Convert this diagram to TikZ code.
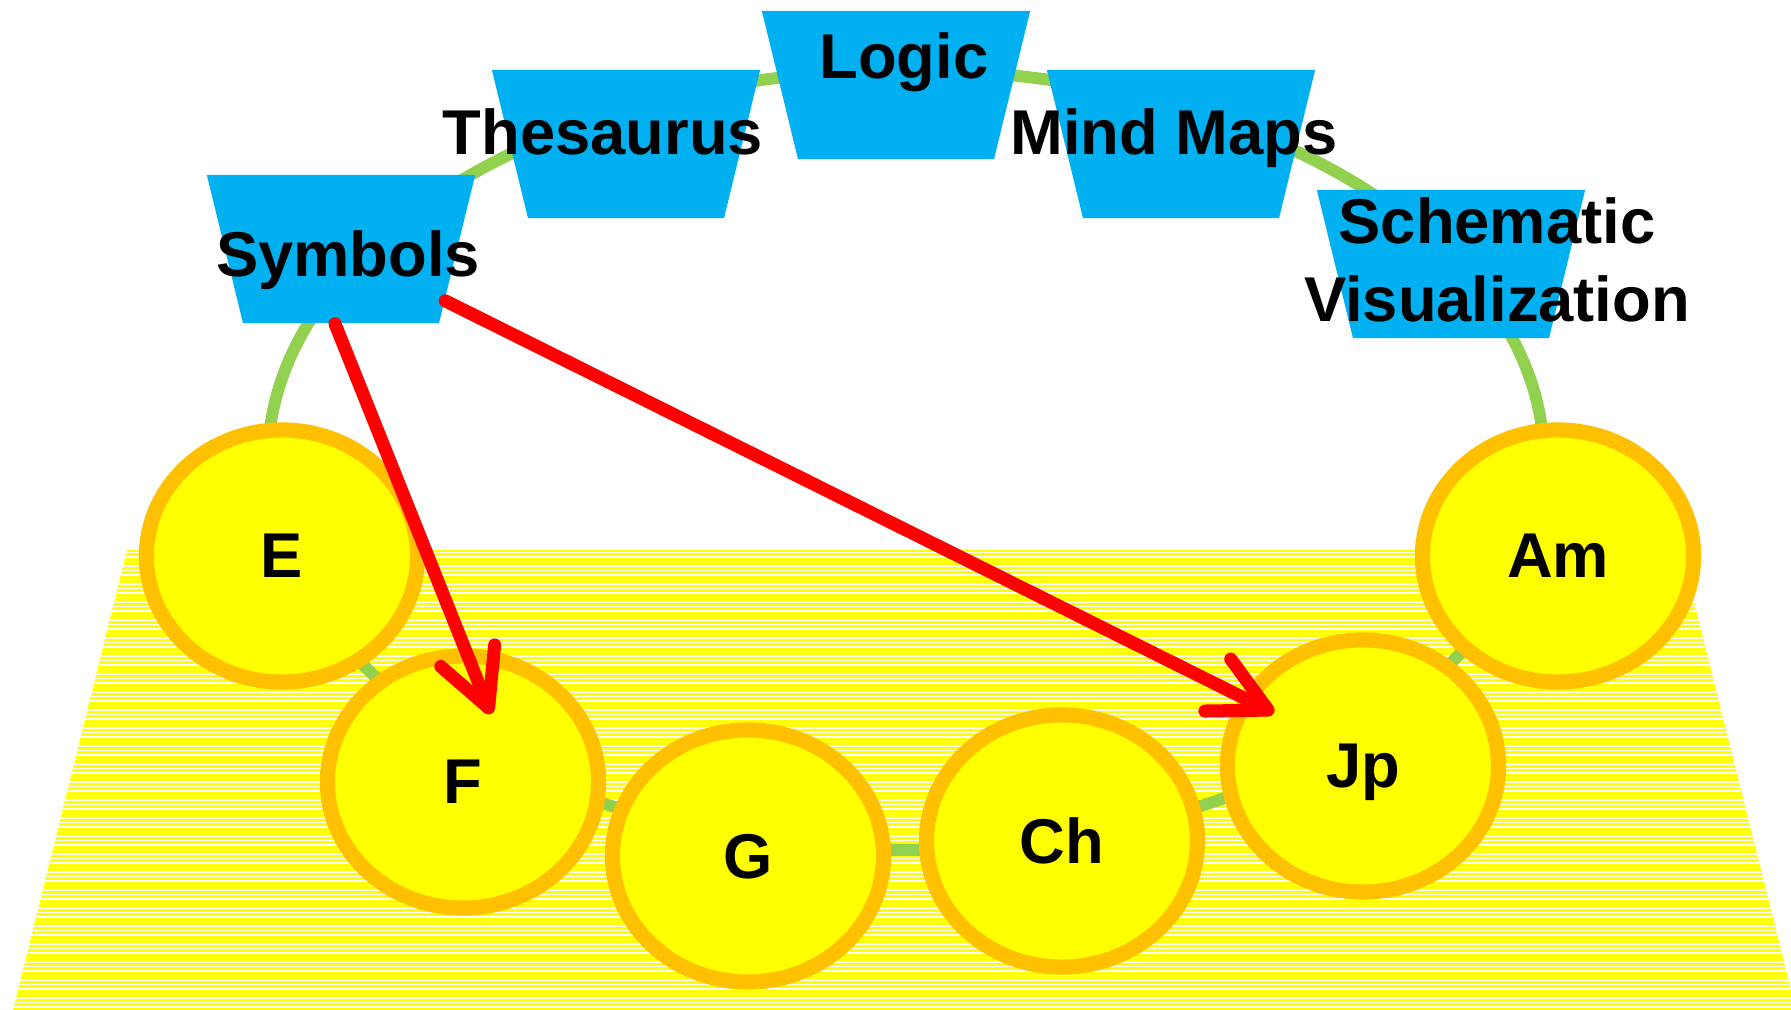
\documentclass[tikz,border=0pt]{standalone}
\usepackage{fontspec}
\setmainfont{Liberation Sans}
\usepackage{tikz}
\usetikzlibrary{positioning,shapes,arrows.meta,calc}
\usepackage{xcolor}
\definecolor{ringgreen}{HTML}{92D050}
\definecolor{boxblue}{HTML}{00B0F0}
\definecolor{langyellow}{HTML}{FFFF00}
\definecolor{langorange}{HTML}{FFC000}

\begin{document}
\begin{tikzpicture}[x=0.01cm,y=-0.01cm,
  lbl/.style={font=\fontsize{18}{22}\selectfont\bfseries},
  lang/.style={draw=langorange,fill=langyellow,line width=4.3pt,shape=ellipse,minimum width=2.71cm,minimum height=2.52cm,inner sep=0pt,text depth=0pt,lbl},
  topic/.style={fill=boxblue,shape=trapezium,trapezium left angle=103.7,trapezium right angle=103.7,inner xsep=0.98cm,inner ysep=0.74cm},
  ring/.style={draw=ringgreen,line width=3.4pt},
  link/.style={draw=red,line width=3.7pt,line cap=round,-{Straight Barb[length=16pt,width=16.5pt,round]}}]
\useasboundingbox (0,0) rectangle (1791,1010);
\fill[langyellow] (127,550) -- (1681,550) -- (1796,1010) -- (13,1010) -- cycle;
\begin{scope}
\clip (127,550) -- (1681,550) -- (1796,1010) -- (13,1010) -- cycle;
\foreach \y in {552.5,557,...,1012} \draw[white,line width=0.3pt] (0,\y) -- (1791,\y);
\end{scope}
\coordinate (hub) at (906,460);
\draw[ring] (hub) ellipse [x radius=638, y radius=390];
\node[lang] (E) at (282,556) {E};
\node[lang] (F) at (463,782) {F};
\node[lang] (G) at (748,856) {G};
\node[lang] (Ch) at (1062,841) {Ch};
\node[lang] (Jp) at (1363,766) {Jp};
\node[lang] (Am) at (1558,556) {Am};
\node[topic] (Symbols) at (341,249) {};
\node[topic] (Thesaurus) at (626,144) {};
\node[topic] (Logic) at (896,85) {};
\node[topic] (MindMaps) at (1181,144) {};
\node[topic] (Schematic) at (1451,264) {};
\node[lbl,anchor=base] (Symbols-t) at (348,277) {Symbols};
\node[lbl,anchor=base] (Thesaurus-t) at (603,155) {Thesaurus};
\node[lbl,anchor=base] (Logic-t) at (904,79) {Logic};
\node[lbl,anchor=base] (MindMaps-t) at (1174,155) {Mind Maps};
\node[lbl,align=center] (Schematic-t) at (1497,260) {Schematic\\Visualization};
\draw[link] ($(Symbols.south)+(-6,0)$) -- ($(F)+(28,-68)$);
\draw[link] (Symbols) -- ($(Jp)+(-89,-53)$);
\end{tikzpicture}
\end{document}
